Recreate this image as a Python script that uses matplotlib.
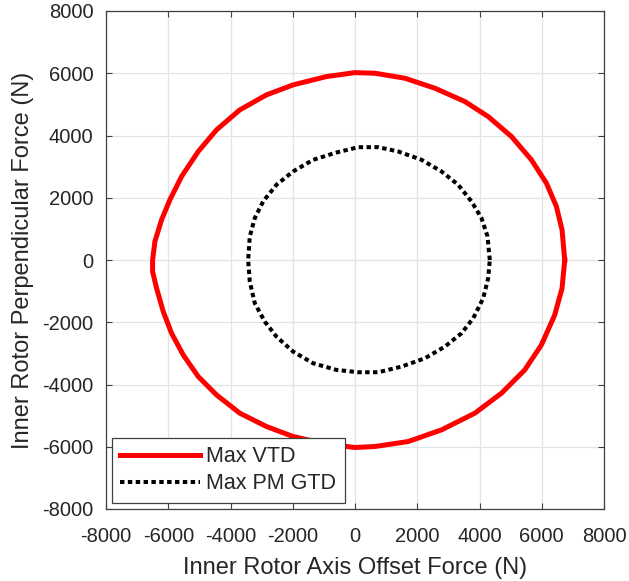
import matplotlib
matplotlib.use("Agg")
import matplotlib.pyplot as plt

plt.rcParams['font.family'] = ['Liberation Sans', 'DejaVu Sans']
plt.rcParams['axes.unicode_minus'] = False

# Max VTD curve (N), counter-clockwise from the right
vtd_x = [6738, 6652, 6470, 6150, 5668, 5027, 4278, 3529, 2567, 1604, 642, 0,
         -920, -1989, -2845, -3701, -4449, -5037, -5572, -5947, -6214, -6428, -6503,
         -6503, -6374, -6160, -5893, -5519, -5037, -4449, -3701, -2845, -1989, -920, 0,
         642, 1711, 2781, 3850, 4706, 5454, 5989, 6417, 6652, 6738]
vtd_y = [0, 971, 1720, 2469, 3218, 3967, 4609, 5091, 5519, 5840, 6000, 6020,
         5893, 5626, 5305, 4823, 4181, 3486, 2683, 1934, 1292, 597, 0,
         -375, -910, -1659, -2354, -3050, -3745, -4334, -4922, -5350, -5671, -5917, -6024,
         -5992, -5832, -5457, -4922, -4280, -3531, -2729, -1766, -910, 0]

# Max PM GTD curve (N)
gtd_x = [4331, 4257, 4064, 3743, 3315, 2781, 2139, 1390, 749, 107,
         -599, -1348, -1989, -2524, -2952, -3219, -3380, -3433,
         -3380, -3219, -2898, -2524, -1989, -1348, -599, 107,
         749, 1497, 2246, 2888, 3422, 3797, 4118, 4278, 4331]
gtd_y = [0, 757, 1346, 1881, 2416, 2844, 3218, 3486, 3625, 3625,
         3453, 3218, 2844, 2416, 1881, 1346, 757, 0,
         -696, -1391, -1980, -2461, -2943, -3317, -3531, -3606,
         -3606, -3424, -3157, -2782, -2354, -1873, -1231, -589, 0]

ticks = [-8000, -6000, -4000, -2000, 0, 2000, 4000, 6000, 8000]
labels = ['Max VTD', 'Max PM GTD']

fig = plt.figure(figsize=(6.29, 5.81), dpi=100)
ax = fig.add_axes([106/629, 1-509/581, 498/629, 498/581])

ax.plot(vtd_x, vtd_y, color='#ff0000', lw=3.6, label=labels[0],
        solid_joinstyle='round')
ax.plot(gtd_x, gtd_y, color='black', lw=2.9, linestyle=(0, (1.1, 0.85)),
        dash_capstyle='butt', label=labels[1])

ax.set_xlim(-8000, 8000)
ax.set_ylim(-8000, 8000)
ax.set_xticks(ticks)
ax.set_yticks(ticks)
ax.grid(True, color='#e3e3e3', lw=0.9)
ax.set_axisbelow(True)
for s in ax.spines.values():
    s.set_color('#404040')
    s.set_linewidth(0.9)
ax.tick_params(direction='in', length=4, width=0.8, colors='#404040',
               labelcolor='#262626', labelsize=14.5, top=True, right=True)
ax.tick_params(axis='x', pad=13)
ax.tick_params(axis='y', pad=9)

ax.set_xlabel('Inner Rotor Axis Offset Force (N)', fontsize=17, color='#262626',
              labelpad=8)
ax.set_ylabel('Inner Rotor Perpendicular Force (N)', fontsize=17, color='#262626',
              labelpad=6)

leg = ax.legend(loc='lower left', bbox_to_anchor=(0.0114, 0.0127),
                borderaxespad=0, fontsize=15.5, fancybox=False, framealpha=1,
                edgecolor='#404040', handlelength=3.7, handletextpad=0.32,
                labelspacing=0.3, borderpad=0.38)
leg.get_frame().set_linewidth(0.9)
for t in leg.get_texts():
    t.set_color('#262626')

fig.savefig('out.png', dpi=100)
